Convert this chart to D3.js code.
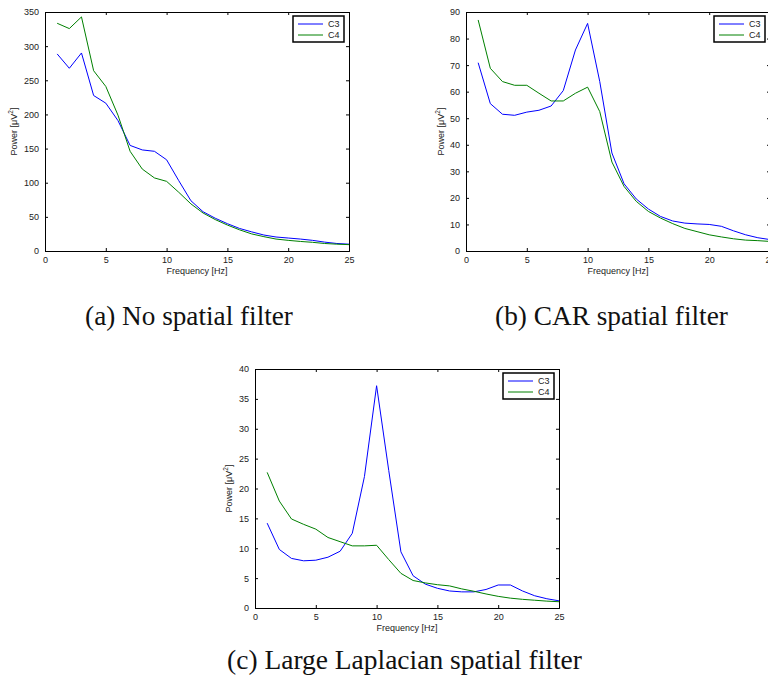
<!DOCTYPE html>
<html><head><meta charset="utf-8">
<script src="https://cdn.jsdelivr.net/npm/d3@7"></script>
<style>body{margin:0;background:#fff}svg{display:block}</style>
</head><body>
<svg id="c" width="768" height="689"></svg>
<script>
const freqs = d3.range(1, 26);
const seriesNames = ["C3", "C4"];
const seriesColors = ["#0000ff", "#008000"];

const noFilterC3 = [288.6,267.6,290,227.7,216.5,191,154.6,148,146,133.6,103,73.6,57.5,48,40,33,28,23.4,20.5,19,17.5,15.6,13,11,10];
const noFilterC4 = [333.5,325.7,342.8,264,241,199,146,120,107,102,86,69,55.6,46,38,31,25,21,17.5,15.6,14,12.7,11,10,9.3];

const carC3 = [70.9,55.5,51.5,51.1,52.3,53,54.6,60.4,75.7,85.7,63.8,36.9,25.3,19.6,15.8,13,11.3,10.5,10.2,10,9.3,7.6,6.1,5,4.3];
const carC4 = [87,68.8,63.8,62.4,62.4,59.4,56.5,56.5,59.4,61.7,52.5,33.5,24.3,18.7,14.9,12.4,10.3,8.5,7.3,6.1,5.3,4.6,4.1,3.9,3.6];

const lapC3 = [14.2,9.8,8.3,7.9,8.0,8.5,9.5,12.5,22,37.2,23,9.4,5.4,4.0,3.3,2.85,2.7,2.7,3.1,3.85,3.85,2.85,2.05,1.55,1.2];
const lapC4 = [22.7,17.9,14.9,14.0,13.2,11.8,11.1,10.4,10.4,10.5,8.1,5.8,4.6,4.2,3.9,3.7,3.2,2.8,2.35,1.95,1.65,1.45,1.3,1.15,1.05];

const xTicks = [0,5,10,15,20,25];
const yTicksA = [0,50,100,150,200,250,300,350];
const yTicksB = [0,10,20,30,40,50,60,70,80,90];
const yTicksC = [0,5,10,15,20,25,30,35,40];

const captions = ["(a) No spatial filter", "(b) CAR spatial filter", "(c) Large Laplacian spatial filter"];
const xLabel = "Frequency [Hz]";

const svg = d3.select("#c");
const SANS = "Liberation Sans, Arial, Helvetica, sans-serif";

function panel(p) {
  const x = d3.scaleLinear().domain([0,25]).range([p.x0, p.x1]);
  const y = d3.scaleLinear().domain([0, p.ymax]).range([p.y1, p.y0]);
  const g = svg.append("g");
  const tl = 3;
  const line = d3.line().x((d,i)=>x(freqs[i])).y(d=>y(d));
  p.series.forEach((s, k) => {
    g.append("path").datum(s).attr("d", line).attr("fill","none")
      .attr("stroke", seriesColors[k]).attr("stroke-width", 1);
  });
  const bottom = g.append("g").attr("transform", `translate(0,${p.y1})`)
    .call(d3.axisBottom(x).tickValues(xTicks).tickSize(-tl).tickPadding(6));
  const top = g.append("g").attr("transform", `translate(0,${p.y0})`)
    .call(d3.axisTop(x).tickValues(xTicks).tickSize(-tl).tickFormat(""));
  const left = g.append("g").attr("transform", `translate(${p.x0},0)`)
    .call(d3.axisLeft(y).tickValues(p.yTicks).tickSize(-tl).tickPadding(6));
  const right = g.append("g").attr("transform", `translate(${p.x1},0)`)
    .call(d3.axisRight(y).tickValues(p.yTicks).tickSize(-tl).tickFormat(""));
  [bottom, top, left, right].forEach(a => {
    a.select(".domain").attr("stroke", "#000").attr("stroke-width", 1);
    a.selectAll(".tick line").attr("stroke", "#000");
    a.selectAll("text").attr("font-family", SANS).attr("font-size", 9).attr("fill", "#222");
  });
  g.append("text").attr("x", (p.x0+p.x1)/2).attr("y", p.y1 + 23)
    .attr("text-anchor","middle").attr("font-family", SANS).attr("font-size", 9).attr("fill","#222")
    .text(xLabel);
  const yl = g.append("text")
    .attr("transform", `translate(${p.x0 - p.ylOff},${(p.y0+p.y1)/2}) rotate(-90)`)
    .attr("text-anchor","middle").attr("font-family", SANS).attr("font-size", 9).attr("fill","#222");
  yl.append("tspan").text("Power [\u03BCV");
  yl.append("tspan").attr("font-size", 6.5).attr("dy", -4).text("2");
  yl.append("tspan").attr("dy", 4).text("]");
  const lw = 51, lh = 26;
  const lx = p.x1 - 5 - lw, ly = p.y0 + 4;
  const lg = g.append("g");
  lg.append("rect").attr("x", lx).attr("y", ly).attr("width", lw).attr("height", lh)
    .attr("fill", "#fff").attr("stroke", "#000").attr("stroke-width", 1.5);
  seriesNames.forEach((n, k) => {
    const yy = ly + 8 + k * 11;
    lg.append("line").attr("x1", lx + 5).attr("x2", lx + 30).attr("y1", yy).attr("y2", yy)
      .attr("stroke", seriesColors[k]).attr("stroke-width", 1);
    lg.append("text").attr("x", lx + 35).attr("y", yy + 3.2)
      .attr("font-family", SANS).attr("font-size", 9).attr("fill", "#222").text(n);
  });
  const cap = svg.append("text").attr("x", p.capX).attr("y", p.capY).attr("text-anchor","middle")
    .attr("font-family", "Liberation Serif, DejaVu Serif, serif").attr("font-size", 20).attr("fill","#111")
    .text(p.caption);
  const w = cap.node().getComputedTextLength();
  cap.attr("font-size", 20 * p.capW / w);
}

panel({x0:45, x1:349, y0:12, y1:251, ymax:350, yTicks:yTicksA, series:[noFilterC3, noFilterC4],
  ylOff:28, caption:captions[0], capX:189, capY:325, capW:208});
panel({x0:466, x1:770, y0:12, y1:251, ymax:90, yTicks:yTicksB, series:[carC3, carC4],
  ylOff:22, caption:captions[1], capX:611.5, capY:325, capW:233});
panel({x0:255, x1:559, y0:369, y1:608, ymax:40, yTicks:yTicksC, series:[lapC3, lapC4],
  ylOff:23, caption:captions[2], capX:404.5, capY:669, capW:355});
</script>
</body></html>
